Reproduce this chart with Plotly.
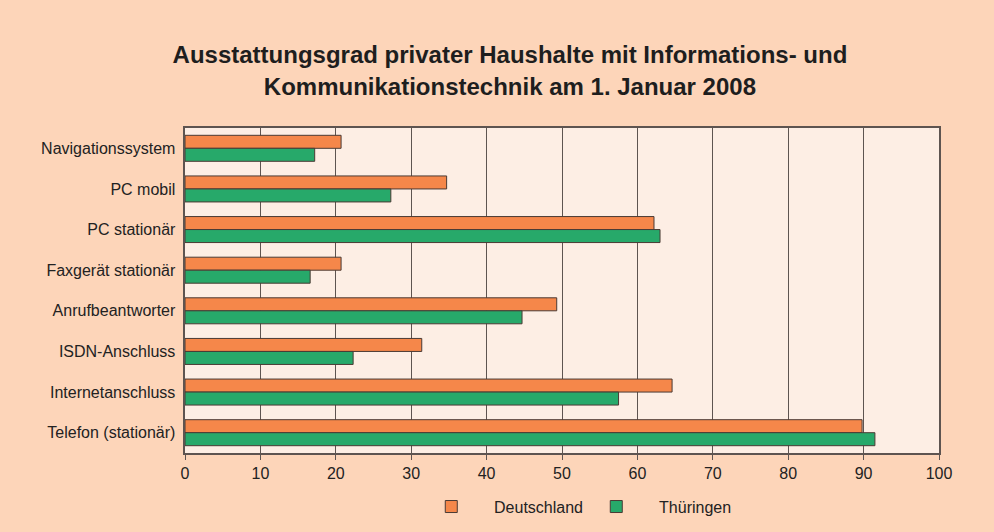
import plotly.graph_objects as go

categories = ["Navigationssystem", "PC mobil", "PC stationär", "Faxgerät stationär",
              "Anrufbeantworter", "ISDN-Anschluss", "Internetanschluss", "Telefon (stationär)"]
deutschland = [20.7, 34.7, 62.2, 20.7, 49.3, 31.4, 64.6, 89.8]
thueringen = [17.2, 27.3, 63.0, 16.6, 44.7, 22.3, 57.5, 91.5]
x_ticks = [0, 10, 20, 30, 40, 50, 60, 70, 80, 90, 100]
series_names = ["Deutschland", "Thüringen"]

pad = "\u00a0" * 4
outline = "#4a3a34"
fig = go.Figure()
fig.add_trace(go.Bar(y=categories, x=deutschland, orientation="h", name=pad + series_names[0],
                     marker=dict(color="#f5874a", line=dict(color=outline, width=1))))
fig.add_trace(go.Bar(y=categories, x=thueringen, orientation="h", name=pad + series_names[1],
                     marker=dict(color="#27a96a", line=dict(color=outline, width=1))))

fig.update_layout(
    width=994, height=532,
    paper_bgcolor="#fdd5b9", plot_bgcolor="#fdeee4",
    font=dict(family="Liberation Sans, Arial, sans-serif", size=16, color="#222222"),
    title=dict(text="<b>Ausstattungsgrad privater Haushalte mit Informations- und<br>Kommunikationstechnik am 1. Januar 2008</b>",
               x=0.513, xanchor="center", y=0.881, yanchor="middle",
               font=dict(size=24, color="#1e1e1e", family="Liberation Sans, Arial, sans-serif")),
    margin=dict(l=185, r=55, t=128, b=79, autoexpand=False),
    barmode="group", bargap=0.36, bargroupgap=0,
    showlegend=True,
    legend=dict(orientation="h", x=0.320, xanchor="left", y=-0.165, yanchor="middle",
                bgcolor="rgba(0,0,0,0)", font=dict(size=16), itemwidth=40,
                entrywidth=110, tracegroupgap=0),
    xaxis=dict(range=[0, 100], tickvals=x_ticks, showgrid=True, gridcolor="#5e5450",
               gridwidth=1, showline=True, linecolor="#5e5450", linewidth=2, mirror=True,
               ticks="outside", ticklen=5, tickcolor="#5e5450", zeroline=False,
               tickfont=dict(size=16), automargin=False),
    yaxis=dict(autorange="reversed", showline=True, linecolor="#5e5450", linewidth=2,
               mirror=True, ticks="", ticksuffix=" ", tickfont=dict(size=16), automargin=False),
)

fig.write_html("out.html", config={"displayModeBar": False},
               post_script="document.body.style.margin='0';document.body.style.padding='0';")
